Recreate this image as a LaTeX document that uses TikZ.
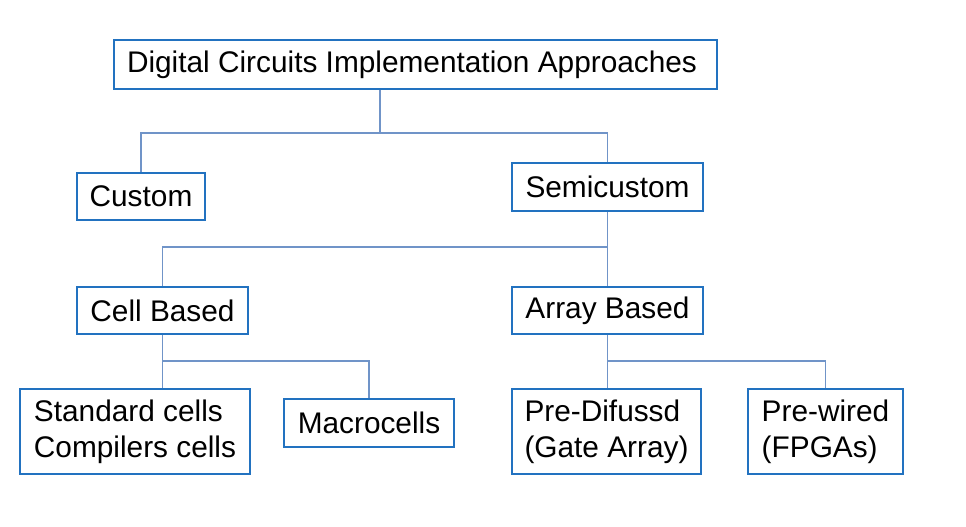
\documentclass[tikz,border=0pt]{standalone}
\usepackage{fontspec}
\setmainfont{Liberation Sans}
\usetikzlibrary{positioning,calc}
\definecolor{boxblue}{HTML}{2272C0}
\definecolor{lineblue}{HTML}{7094C8}

\begin{document}
\begin{tikzpicture}[x=0.025cm, y=-0.025cm,
    box/.style={draw=boxblue, line width=2.1pt, fill=white, align=left,
      inner sep=0pt, font=\fontsize{21.2}{25.5}\selectfont},
    link/.style={draw=lineblue, line width=0.9pt}]
  \useasboundingbox (0,0) rectangle (966,526);

  % Boxes
  \node[box, minimum width=603*0.025cm, minimum height=49*0.025cm] (root) at (415.5,64.5)
    {Digital Circuits Implementation Approaches\hspace{0.175cm}};
  \node[box, minimum width=128*0.025cm, minimum height=47*0.025cm] (custom) at (141,196.5) {Custom};
  \node[box, minimum width=191*0.025cm, minimum height=48*0.025cm] (semi) at (607.5,187) {Semicustom};
  \node[box, minimum width=171*0.025cm, minimum height=47*0.025cm] (cell) at (162.5,310.5) {Cell Based};
  \node[box, minimum width=191*0.025cm, minimum height=47*0.025cm] (array) at (607.5,310.5) {Array Based};
  \node[box, minimum width=230*0.025cm, minimum height=85*0.025cm] (std) at (135,431.5)
    {Standard cells\\Compilers cells};
  \node[box, minimum width=170*0.025cm, minimum height=48*0.025cm] (macro) at (369,423) {Macrocells};
  \node[box, minimum width=189*0.025cm, minimum height=85*0.025cm] (prediff) at (606.5,431.5)
    {Pre-Difussd\\(Gate Array)};
  \node[box, minimum width=155*0.025cm, minimum height=85*0.025cm] (prewired) at (825.5,431.5)
    {Pre-wired\\(FPGAs)};

  % Junctions
  \coordinate (j1) at (380,133);
  \coordinate (j2) at (607.5,247);
  \coordinate (j3) at (162.5,361);
  \coordinate (j4) at (607.5,361);

  % Connectors
  \draw[link] (j1 |- root.south) -- (j1);
  \draw[link] (custom.north) |- (j1) -| (semi.north);
  \draw[link] (semi.south) -- (array.north);
  \draw[link] (j2) -| (cell.north);
  \draw[link] (cell.south) -- (std.north -| cell.south);
  \draw[link] (j3) -| (macro.north);
  \draw[link] (array.south) -- (prediff.north -| array.south);
  \draw[link] (j4) -| (prewired.north);
\end{tikzpicture}
\end{document}
